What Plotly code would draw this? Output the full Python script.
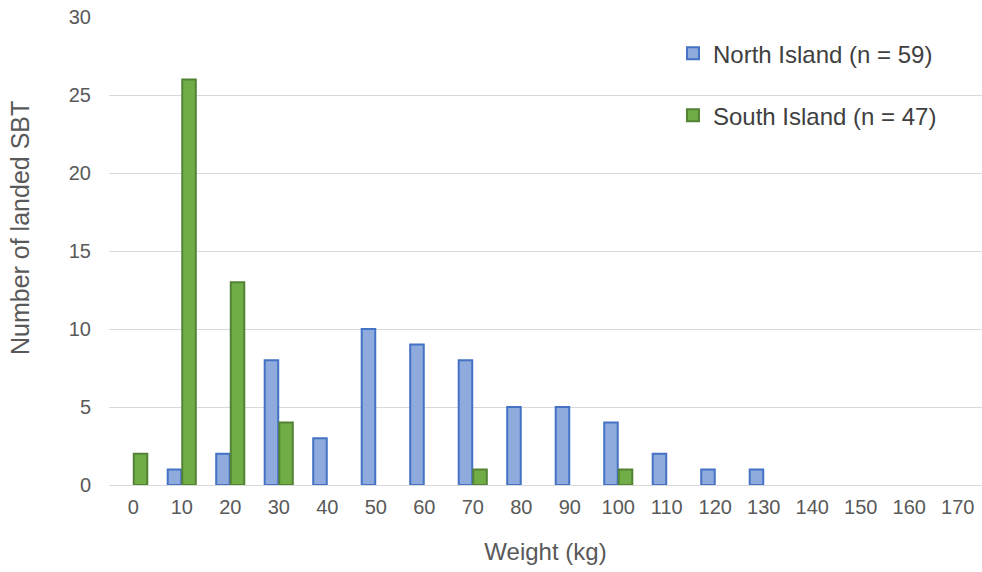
import plotly.graph_objects as go

categories = [str(v) for v in range(0, 180, 10)]
north = [0, 1, 2, 8, 3, 10, 9, 8, 5, 5, 4, 2, 1, 1, 0, 0, 0, 0]
south = [2, 26, 13, 4, 0, 0, 0, 1, 0, 0, 1, 0, 0, 0, 0, 0, 0, 0]
north_name = "North Island (n = 59)"
south_name = "South Island (n = 47)"
x_title = "Weight (kg)"
y_title = "Number of landed SBT"


def drawn(vals):
    # zero-height bars are not drawn (no flat outline)
    return [v if v > 0 else None for v in vals]


fig = go.Figure()
fig.add_trace(go.Bar(x=categories, y=drawn(north), name=north_name, legendgroup="n",
                     marker=dict(color="#8faadc", line=dict(color="#4472c4", width=2))))
fig.add_trace(go.Bar(x=categories, y=drawn(south), name=south_name, legendgroup="s",
                     marker=dict(color="#70ad47", line=dict(color="#548235", width=2))))

fig.add_annotation(text=y_title, xref="paper", yref="paper", x=-0.1019, y=0.5,
                   xanchor="center", yanchor="middle", textangle=-90, showarrow=False,
                   font=dict(size=25, color="#595959"), yshift=23)

fig.update_layout(
    width=982, height=572,
    margin=dict(l=109, r=0, t=17, b=87),
    plot_bgcolor="white", paper_bgcolor="white",
    barmode="group", bargap=0.4, bargroupgap=0.07,
    font=dict(family="Arial, Liberation Sans, sans-serif", color="#595959", size=20),
    legend=dict(x=0.646, y=0.97, xanchor="left", yanchor="top",
                font=dict(size=24, color="#404040"), tracegroupgap=28,
                bgcolor="rgba(0,0,0,0)"),
    xaxis=dict(title=dict(text=x_title, font=dict(size=24), standoff=26),
               showline=True, linecolor="#d9d9d9", linewidth=1, ticks="",
               tickfont=dict(size=20), ticklabelstandoff=4),
    yaxis=dict(range=[0, 30], dtick=5, showgrid=True, gridcolor="#d9d9d9",
               zeroline=False, tickfont=dict(size=20), ticklabelstandoff=17),
)

fig.write_html("out.html")
